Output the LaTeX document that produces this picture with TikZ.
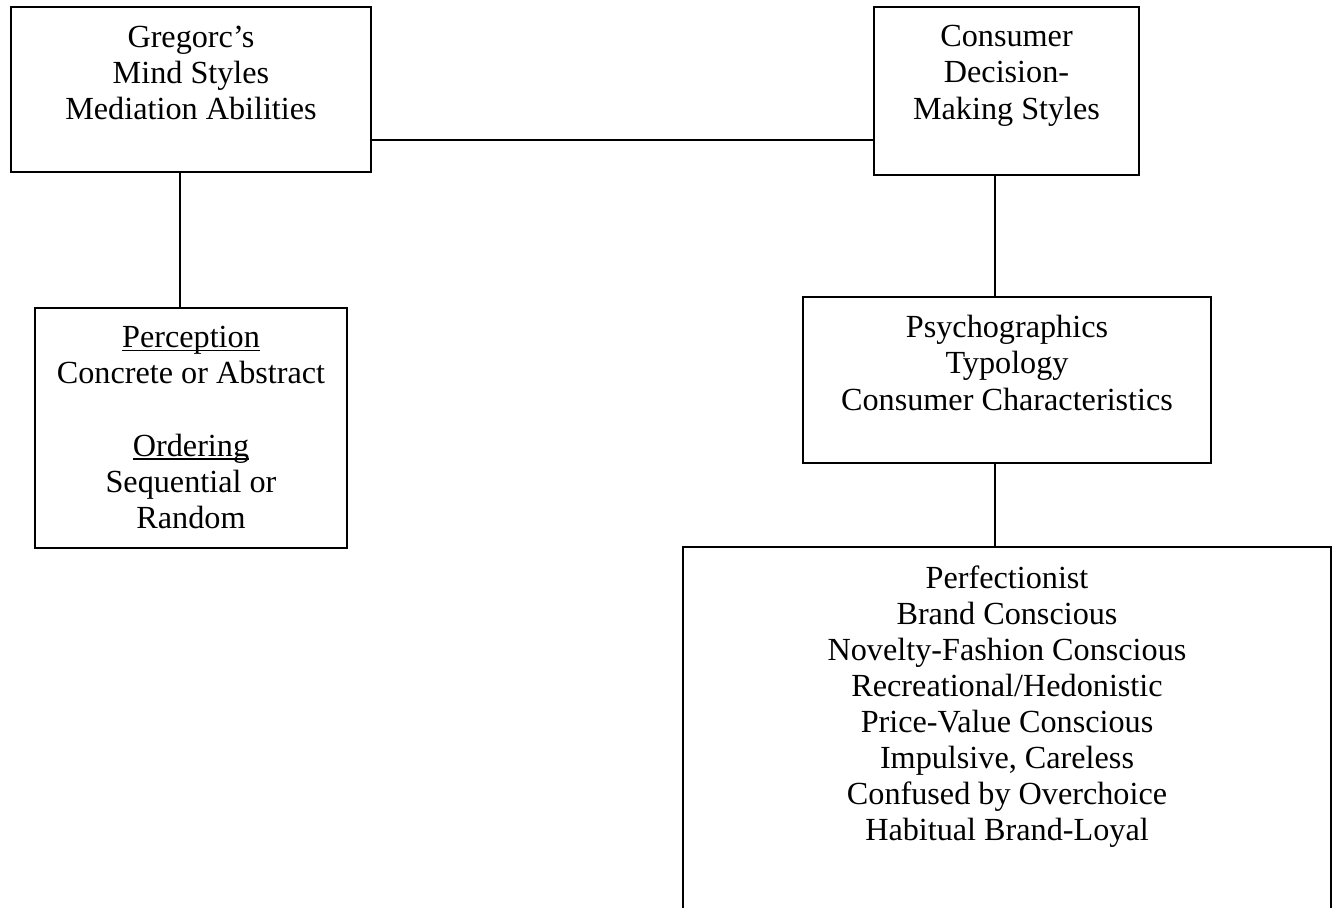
\documentclass[tikz,border=0pt]{standalone}
\usepackage{fontspec}
\setmainfont{Liberation Serif}
\usetikzlibrary{positioning}
\newsavebox\ulbox
\newcommand\ulword[1]{\sbox\ulbox{#1}\rlap{\usebox\ulbox}\rule[-1.4pt]{\wd\ulbox}{0.6pt}}

\begin{document}
\begin{tikzpicture}[x=0.385pt,y=-0.385pt,
  box/.style={draw,line width=0.75pt,inner sep=0pt},
  txt/.style={align=center,inner sep=0pt,font=\fontsize{12.4}{13.9}\selectfont},
  link/.style={line width=0.75pt}]
\useasboundingbox (0,0) rectangle (1334,907);
% boxes
\node[box,minimum width=138.6pt,minimum height=63.5pt] (greg) at (191,89.5) {};
\node[box,minimum width=102pt,minimum height=64.7pt] (cons) at (1006.5,91) {};
\node[box,minimum width=120.1pt,minimum height=92.4pt] (perc) at (191,428) {};
\node[box,minimum width=157.1pt,minimum height=63.9pt] (psy) at (1007,380) {};
\node[box,minimum width=249.5pt,minimum height=159pt] (list) at (1007,753.5) {};
% texts
\node[txt,below=7.5pt of greg.north] (gregtxt) {Gregorc’s\\Mind Styles\\Mediation Abilities};
\node[txt,below=7.3pt of cons.north] (constxt) {Consumer\\Decision-\\Making Styles};
\node[txt,below=7.3pt of perc.north] (perctxt) {\ulword{Perception}\\Concrete or Abstract\\[13.9pt]\ulword{Ordering}\\Sequential or\\Random};
\node[txt,below=7.3pt of psy.north] (psytxt) {Psychographics\\Typology\\Consumer Characteristics};
\node[txt,below=7.3pt of list.north] (listtxt) {Perfectionist\\Brand Conscious\\Novelty-Fashion Conscious\\Recreational/Hedonistic\\Price-Value Conscious\\Impulsive, Careless\\Confused by Overchoice\\Habitual Brand-Loyal};
% connectors
\coordinate (hy) at (0,140);
\coordinate (lx) at (180,0);
\coordinate (rx) at (995,0);
\draw[link] (greg.east |- hy) -- (cons.west |- hy);
\draw[link] (greg.south -| lx) -- (perc.north -| lx);
\draw[link] (cons.south -| rx) -- (psy.north -| rx);
\draw[link] (psy.south -| rx) -- (list.north -| rx);
\end{tikzpicture}
\end{document}
